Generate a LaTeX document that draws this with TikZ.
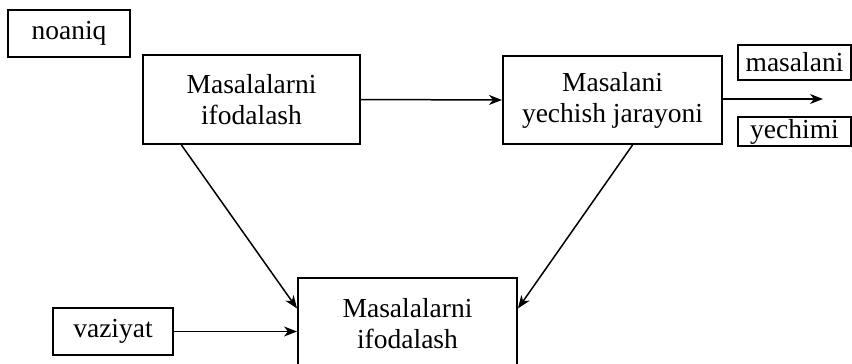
\documentclass[tikz,border=0pt]{standalone}
\usepackage{fontspec}
\setmainfont{Liberation Serif}
\usepackage{tikz}
\usetikzlibrary{arrows.meta}

\begin{document}
\begin{tikzpicture}[x=1pt,y=-1pt]
      \useasboundingbox (0,0) rectangle (852,364);
      \clip (0,0) rectangle (852,364);
      \begin{scope}[every
        node/.style={draw,line width=2pt,inner sep=0pt,align=center,
          font=\fontsize{27.5}{31}\selectfont},line width=1.5pt,
        >={Stealth[length=13pt,width=10pt,inset=4pt]}]
        % \draw[help lines,step=50] (0,0) grid (852,364);
        \node[minimum width=122pt,minimum height=47pt] (noaniq) at (69,33.5) {noaniq};
        \node[minimum width=217pt,minimum height=89pt] (ifoda_A) at (251.5,99.5) {Masalalarni\\ifodalash};
        \node[minimum width=219pt,minimum height=88pt] (yechish) at (612.5,100) {Masalani\\yechish jarayoni};
        \node[minimum width=113pt,minimum height=35pt] (masalani) at (794.5,62.5) {masalani};
        \node[minimum width=113pt,minimum height=29pt] (yechimi) at (794.5,131.5) {yechimi};
        \node[minimum width=120pt,minimum height=47pt] (vaziyat) at (113,331.5) {vaziyat};
        \node[minimum width=219pt,minimum height=92pt] (ifoda_B) at (407.5,324) {Masalalarni\\ifodalash};
        \coordinate (out) at (823,99);

        \draw[->] (ifoda_A.east) -- (yechish.west);
        \draw[->] (yechish.east |- out) -- (out);
        \draw[->] (ifoda_A.213) -- (ifoda_B.172);
        \draw[->] (yechish.-66) -- (ifoda_B.8);
        \draw[->] (vaziyat.east) -- (vaziyat.east -| ifoda_B.west);
      \end{scope}
    \end{tikzpicture}
\end{document}
